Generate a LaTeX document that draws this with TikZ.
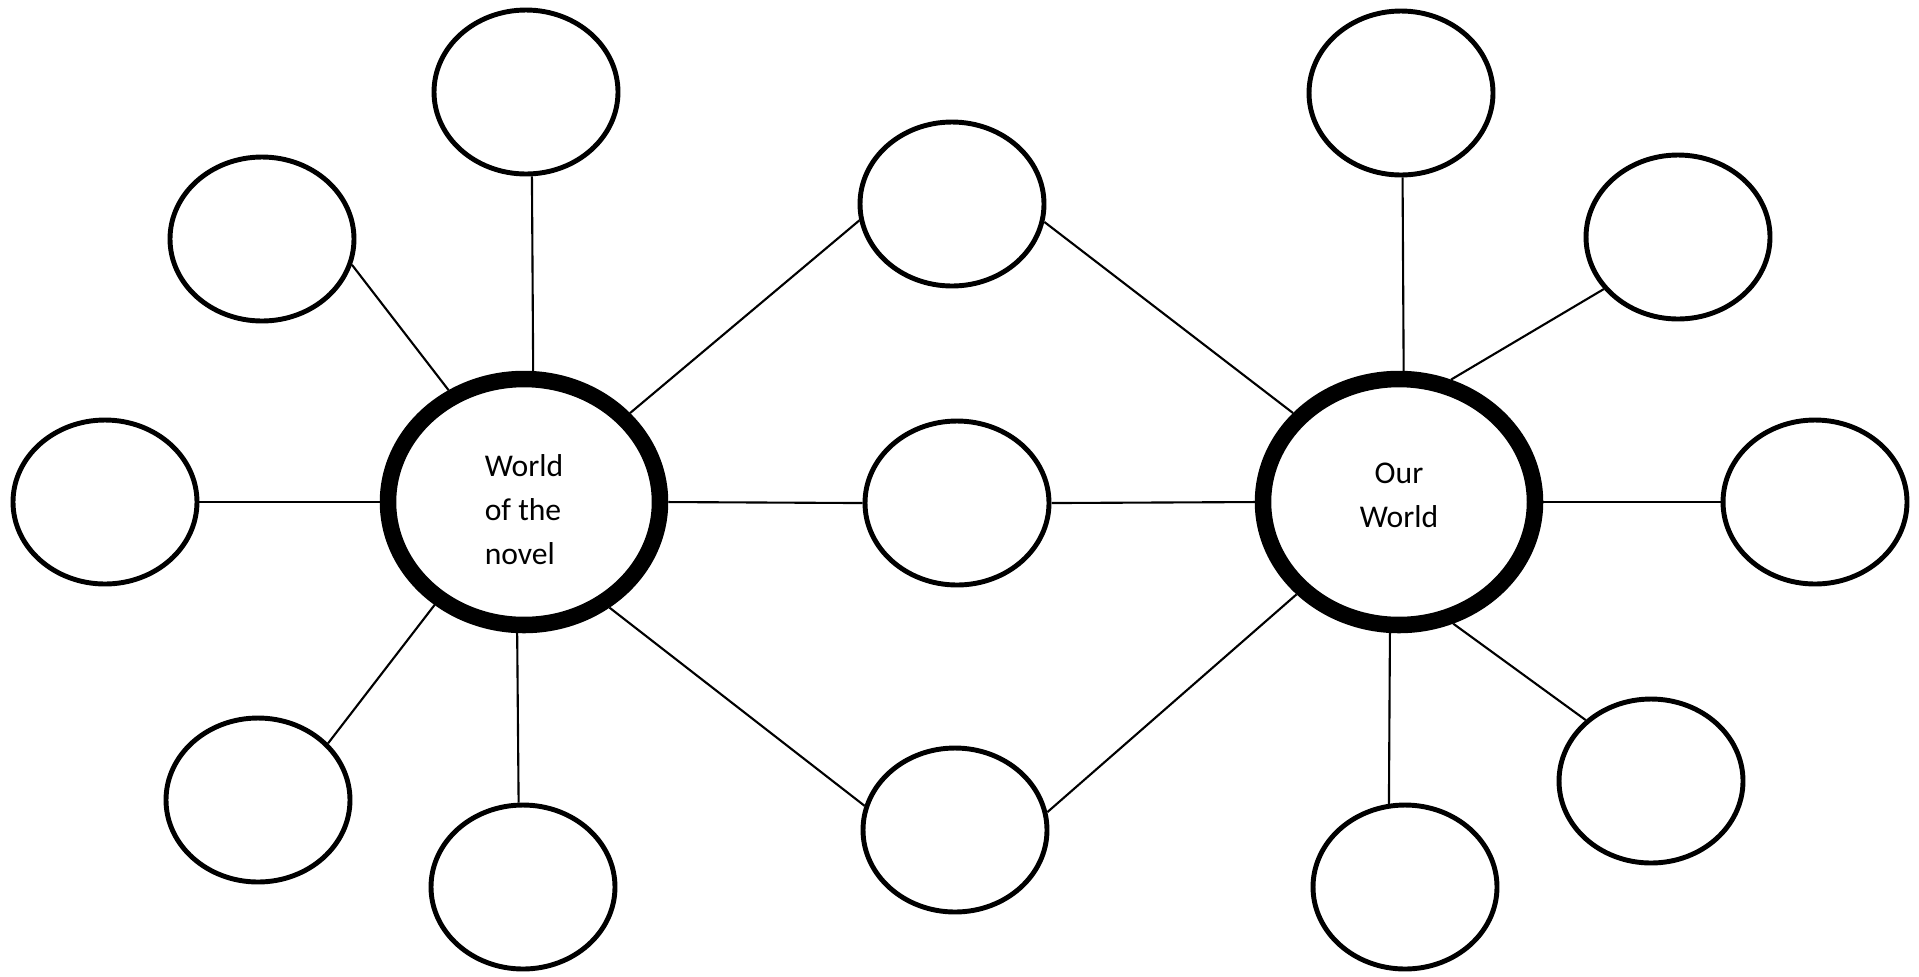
\documentclass[tikz,border=0pt]{standalone}
\usepackage{fontspec}
\setmainfont{Carlito}
\usepackage{tikz}
\usetikzlibrary{shapes.geometric}

\begin{document}
\begin{tikzpicture}[scale=0.1]
\tikzstyle{bubble}=[draw, ellipse, line width=1.4pt, minimum width=1.84cm, minimum height=1.64cm, inner sep=0pt]
\tikzstyle{world}=[draw, ellipse, line width=4.7pt, minimum width=2.72cm, minimum height=2.46cm, inner sep=0pt, font=\fontsize{9}{12.5}\selectfont]
\tikzstyle{link}=[line width=0.6pt]
\useasboundingbox (0,0) rectangle (191.9,-97.6);
% the two worlds
\node [world, align=left, text height=35.7pt, text depth=0pt] (novel) at (52.4,-50.2) {World\\of the\\novel};
\node [world, align=center, text height=14.4pt, text depth=0pt] (our) at (139.9,-50.2) {Our\\World};
% bubbles round the novel
\node [bubble] (tl) at (52.6,-9.2) {};
\node [bubble] (ul) at (26.2,-23.9) {};
\node [bubble] (l) at (10.5,-50.2) {};
\node [bubble] (ll) at (25.8,-80.0) {};
\node [bubble] (bl) at (52.3,-88.7) {};
% bubbles in the middle
\node [bubble] (mt) at (95.2,-20.4) {};
\node [bubble] (mm) at (95.7,-50.3) {};
\node [bubble] (mb) at (95.5,-83.0) {};
% bubbles round our world
\node [bubble] (tr) at (140.1,-9.3) {};
\node [bubble] (ur) at (167.8,-23.7) {};
\node [bubble] (r) at (181.5,-50.2) {};
\node [bubble] (lr) at (165.1,-78.1) {};
\node [bubble] (br) at (140.5,-88.7) {};
% connectors
\draw [link] (tl.-86) -- (novel.86);
\draw [link] (ul.-16) -- (novel.124);
\draw [link] (l.0) -- (novel.180);
\draw [link] (ll.39) -- (novel.-131);
\draw [link] (bl.93) -- (novel.-93);
\draw [link] (novel.40) -- (mt.190);
\draw [link] (novel.0) -- (mm.180);
\draw [link] (novel.-51) -- (mb.165);
\draw [link] (mt.-11) -- (our.140);
\draw [link] (mm.0) -- (our.180);
\draw [link] (mb.11) -- (our.222);
\draw [link] (our.88) -- (tr.-89);
\draw [link] (our.67) -- (ur.215);
\draw [link] (our.0) -- (r.180);
\draw [link] (our.-66) -- (lr.137);
\draw [link] (our.-94) -- (br.101);
\end{tikzpicture}
\end{document}
